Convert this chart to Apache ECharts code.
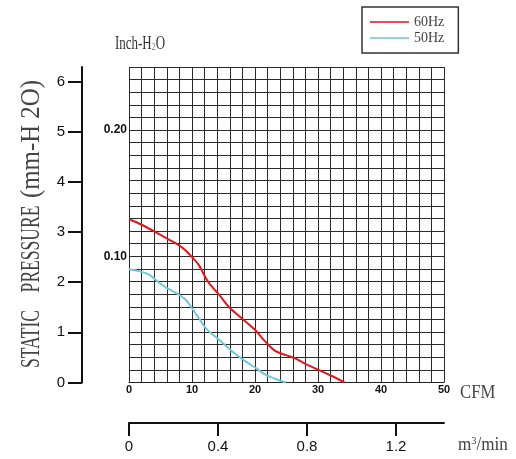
<!DOCTYPE html>
<html>
<head>
<meta charset="utf-8">
<script src="https://cdn.jsdelivr.net/npm/echarts@6/dist/echarts.min.js"></script>
<style>
html,body{margin:0;padding:0;background:#fff;}
#chart{width:516px;height:459px;}
</style>
</head>
<body>
<div id="chart"></div>
<script>
// ---- data (static pressure in mm H2O vs airflow in CFM) ----
const seriesNames = ['60Hz', '50Hz'];
const cfm60 = [0, 2.1, 4.2, 6.2, 7.9, 9.0, 10.0, 11.1, 11.9, 12.7, 14.3, 15.9, 17.9, 20.0, 21.6, 23.2, 24.8, 26.4, 28.0, 30.1, 32.2, 34.2];
const pressure60 = [3.26, 3.14, 3.00, 2.86, 2.74, 2.63, 2.50, 2.34, 2.15, 1.98, 1.75, 1.50, 1.28, 1.05, 0.82, 0.63, 0.55, 0.48, 0.37, 0.25, 0.13, 0.0];
const cfm50 = [0, 1.6, 3.2, 4.2, 5.8, 7.9, 9.0, 10.0, 11.1, 12.2, 14.3, 16.4, 18.5, 20.1, 21.7, 23.3, 24.9];
const pressure50 = [2.26, 2.22, 2.15, 2.05, 1.90, 1.75, 1.65, 1.48, 1.28, 1.08, 0.85, 0.62, 0.42, 0.29, 0.15, 0.07, 0.0];
const cfmTicks = [0, 10, 20, 30, 40, 50];
const mmTicks = [0, 1, 2, 3, 4, 5, 6];
const inchTicks = [10, 20];        // grid rows of 0.01 inch
const inchLabels = ['0.10', '0.20'];
const m3Ticks = [0, 0.4, 0.8, 1.2];
const CFM_TO_M3MIN = 0.0283168;

const pairs = (xs, ys) => xs.map((x, i) => [x, ys[i]]);

const chart = echarts.init(document.getElementById('chart'), null, {renderer: 'canvas'});
const serif = '"Liberation Serif", "Times New Roman", serif';
const sans = '"Liberation Sans", Arial, sans-serif';

const option = {
  backgroundColor: '#fff',
  animation: false,
  legend: {
    orient: 'vertical',
    left: 362, top: 7,
    padding: [8, 14, 8, 8],
    itemGap: 2,
    itemWidth: 39, itemHeight: 2,
    icon: 'rect',
    borderColor: '#333', borderWidth: 1.5,
    textStyle: {fontFamily: serif, fontSize: 14, color: '#444'},
    data: seriesNames
  },
  grid: [
    {left: 129, top: 67, width: 315, height: 315.5},
    {left: 129, top: 422, width: 315, height: 1}
  ],
  xAxis: [
    {
      type: 'value', gridIndex: 0, min: 0, max: 50, interval: 2,
      axisLine: {show: true, onZero: false, lineStyle: {color: '#222', width: 1}},
      axisTick: {show: false},
      splitLine: {show: true, lineStyle: {color: '#2a2a2a', width: 1}},
      axisLabel: {
        margin: 2, fontFamily: sans, fontWeight: 'bold', fontSize: 11, color: '#111',
        formatter: v => (cfmTicks.indexOf(v) >= 0 ? String(v) : '')
      }
    },
    {
      type: 'value', gridIndex: 1, min: 0, max: 50 * CFM_TO_M3MIN, position: 'bottom',
      axisLine: {show: true, onZero: false, lineStyle: {color: '#111', width: 2}},
      axisTick: {show: true, inside: false, length: 13, lineStyle: {color: '#111', width: 2}, customValues: m3Ticks},
      splitLine: {show: false},
      axisLabel: {margin: 16, fontFamily: sans, fontSize: 15, color: '#111', customValues: m3Ticks,
        formatter: v => String(v)}
    }
  ],
  yAxis: [
    {
      type: 'value', gridIndex: 0, min: 0, max: 6.29, position: 'left', offset: 47,
      axisLine: {show: true, onZero: false, lineStyle: {color: '#111', width: 2}},
      axisTick: {show: true, inside: false, length: 14, lineStyle: {color: '#111', width: 2}, customValues: mmTicks},
      splitLine: {show: false},
      axisLabel: {margin: 17, fontFamily: sans, fontSize: 15, color: '#111', customValues: mmTicks,
        formatter: v => String(v)}
    },
    {
      type: 'value', gridIndex: 0, min: 0, max: 25, interval: 1, position: 'left', offset: 0,
      axisLine: {show: false, onZero: false},
      axisTick: {show: false},
      splitLine: {show: true, lineStyle: {color: '#2a2a2a', width: 1}},
      axisLabel: {
        margin: 2, fontFamily: sans, fontWeight: 'bold', fontSize: 12, color: '#111',
        padding: [3, 0, 0, 0],
        customValues: inchTicks,
        formatter: v => { const i = inchTicks.indexOf(v); return i >= 0 ? inchLabels[i] : ''; }
      }
    },
    {type: 'value', gridIndex: 1, show: false, min: 0, max: 1}
  ],
  series: [
    {
      name: seriesNames[0], type: 'line', xAxisIndex: 0, yAxisIndex: 0,
      data: pairs(cfm60, pressure60), smooth: 0.3, showSymbol: false, symbol: 'none',
      lineStyle: {color: '#e8161c', width: 2}, itemStyle: {color: '#f04a4a'}
    },
    {
      name: seriesNames[1], type: 'line', xAxisIndex: 0, yAxisIndex: 0,
      data: pairs(cfm50, pressure50), smooth: 0.3, showSymbol: false, symbol: 'none',
      lineStyle: {color: '#6ec8d8', width: 2}, itemStyle: {color: '#8dd4e0'}
    }
  ],
  graphic: [
    {
      type: 'text', x: 32, y: 368, rotation: Math.PI / 2, scaleX: 0.65,
      style: {text: 'STATIC    PRESSURE', fontFamily: serif, fontSize: 27, fill: '#444',
        align: 'left', verticalAlign: 'middle', textAlign: 'left', textVerticalAlign: 'middle'}
    },
    {
      type: 'text', x: 32, y: 198, rotation: Math.PI / 2, scaleX: 0.92,
      style: {text: '(mm-H 2O)', fontFamily: serif, fontSize: 27, fill: '#444',
        align: 'left', verticalAlign: 'middle', textAlign: 'left', textVerticalAlign: 'middle'}
    },
    {
      type: 'text', x: 115, y: 44, scaleX: 0.72,
      style: {text: 'Inch-H{s|2}O', fontFamily: serif, fontSize: 18, fill: '#333',
        rich: {s: {fontFamily: serif, fontSize: 11, fill: '#777', verticalAlign: 'bottom'}},
        align: 'left', verticalAlign: 'middle', textAlign: 'left', textVerticalAlign: 'middle'}
    },
    {
      type: 'text', x: 460, y: 393, scaleX: 0.88,
      style: {text: 'CFM', fontFamily: serif, fontSize: 19, fill: '#444',
        align: 'left', verticalAlign: 'middle', textAlign: 'left', textVerticalAlign: 'middle'}
    },
    {
      type: 'text', x: 458, y: 445, scaleX: 0.95,
      style: {text: 'm{sup|3}/min', fontFamily: serif, fontSize: 18, fill: '#444',
        rich: {sup: {fontFamily: serif, fontSize: 11, fill: '#444', verticalAlign: 'top'}},
        align: 'left', verticalAlign: 'middle', textAlign: 'left', textVerticalAlign: 'middle'}
    }
  ]
};
chart.setOption(option);
</script>
</body>
</html>
